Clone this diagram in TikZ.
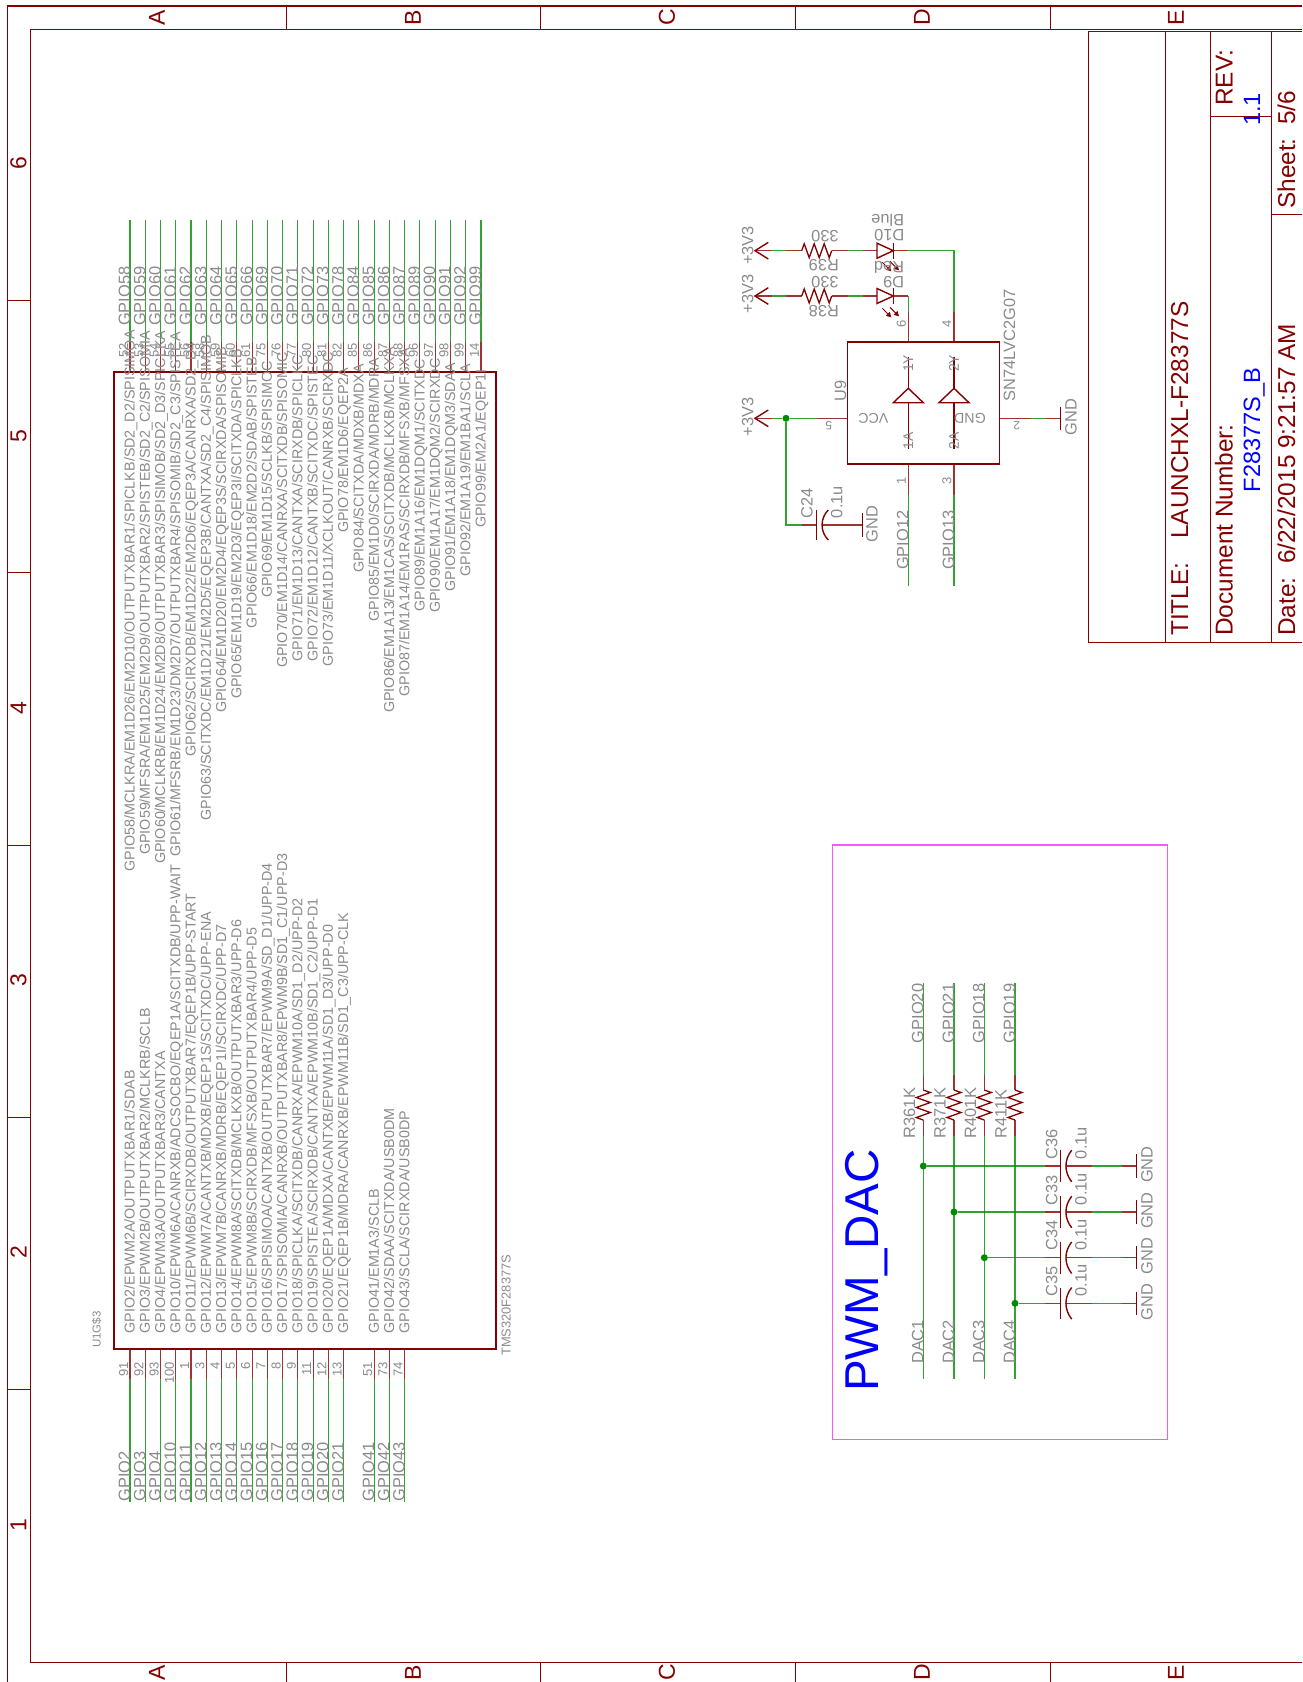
\documentclass[tikz,border=0pt]{standalone}
\usepackage{fontspec}
\setmainfont{Liberation Sans}
\definecolor{sred}{HTML}{850000}
\definecolor{sgreen}{HTML}{008A00}
\definecolor{stxt}{HTML}{8A8A8A}
\definecolor{sblue}{HTML}{0000FF}
\definecolor{smag}{HTML}{FF55FF}
\newcommand\fsz[1]{\fontsize{#1}{#1}\selectfont}
\tikzset{
  wire/.style={draw=sgreen,line width=1.1pt,opacity=0.8},
  pinl/.style={draw=sred,line width=1.1pt,opacity=0.8},
  sym/.style={draw=sred,line width=1.4pt},
  frameo/.style={draw=sred,line width=1.5pt},
  framei/.style={draw=sred,line width=1pt},
  vt/.style={text=stxt,inner sep=0pt,rotate=90,anchor=base west,font=\fsz{16.4}},
  vte/.style={text=stxt,inner sep=0pt,rotate=90,anchor=base east,font=\fsz{13}},
  vf/.style={text=stxt,inner sep=0pt,rotate=90,anchor=base west,font=\fsz{14.34}},
  ct/.style={text=stxt,inner sep=0pt,rotate=90,anchor=center,font=\fsz{14}},
  ut/.style={text=stxt,inner sep=0pt,rotate=180,anchor=center,font=\fsz{16.4}},
  zl/.style={text=sred,inner sep=0pt,rotate=90,anchor=center,font=\fsz{23}},
  tt/.style={text=sred,inner sep=0pt,rotate=90,anchor=base west,font=\fsz{24.4}},
  tb/.style={text=sblue,inner sep=0pt,rotate=90,anchor=base west,font=\fsz{23.6}},
  dot/.style={circle,fill=sgreen,inner sep=0pt,minimum size=7pt},
}
% top pin: index, net, number, start of the function text, function text
\newcommand\toppin[5]{%
  \pgfmathsetmacro\px{130+15.26*#1}
  \coordinate (t#2a) at (\px,220);
  \coordinate (t#2b) at (\px,341.7);
  \coordinate (t#2c) at (\px,372.5);
  \draw[wire] (t#2a) -- (t#2b);
  \draw[pinl] (t#2b) -- (t#2c);
  \node[vt] (tn#2) at (\px,326) {#2};
  \node[vt,font=\fsz{13}] (tp#2) at (\px-2,357.5) {#3};
  \node[vf] (tf#2) at (\px+4.6,#4) {#5};
}
% bottom pin: index, net, number, function text
\newcommand\botpin[4]{%
  \pgfmathsetmacro\px{130+15.26*#1}
  \coordinate (b#2a) at (\px,1501.7);
  \coordinate (b#2b) at (\px,1379);
  \coordinate (b#2c) at (\px,1349);
  \draw[wire] (b#2a) -- (b#2b);
  \draw[pinl] (b#2b) -- (b#2c);
  \node[vt] (bn#2) at (\px,1501.7) {#2};
  \node[vte] (bp#2) at (\px-2,1362) {#3};
  \node[vf] (bf#2) at (\px+4.6,1333.5) {#4};
}
% PWM branch: x, GPIO net, R label, DAC net
\newcommand\dacline[4]{%
  \coordinate (g#2) at (#1,983.3);
  \coordinate (r#2a) at (#1,1075);
  \coordinate (r#2b) at (#1,1135.7);
  \coordinate (d#2) at (#1,1379);
  \draw[wire] (g#2) -- (r#2a);
  \draw[pinl] (r#2a) -- (#1,1090);
  \draw[sym,line width=1.3pt] (#1,1090) -- ++(7,2.5) -- ++(-14,5) -- ++(14,5) -- ++(-14,5) -- ++(14,5) -- ++(-14,5) -- ++(7,2.5);
  \draw[pinl] (#1,1120) -- (r#2b);
  \draw[wire] (r#2b) -- (d#2);
  \node[vt] (gn#2) at (#1,1043.3) {#2};
  \node[vt] (rn#2) at (#1-8.3,1138.3) {#3};
  \node[vt] (dn#2) at (#1,1364) {#4};
}
% PWM cap: y, x of DAC line, C label
\newcommand\daccap[3]{%
  \node[dot] (j#3) at (#2,#1) {};
  \draw[wire] (j#3) -- (1045,#1);
  \draw[pinl] (1045,#1) -- (1060.7,#1);
  \draw[sym] (1060.7,#1-15.8) -- (1060.7,#1+15.8);
  \draw[sym] (1071.7,#1-15.8) .. controls (1064,#1-6) and (1064,#1+6) .. (1071.7,#1+15.8);
  \draw[pinl] (1066,#1) -- (1091.7,#1);
  \draw[wire] (1091.7,#1) -- (1121.7,#1);
  \draw[pinl] (1121.7,#1) -- (1136.7,#1);
  \draw[sym] (1136.7,#1-11.7) -- (1136.7,#1+11.7);
  \node[vt] (cn#3) at (1057.3,#1-6.7) {#3};
  \node[vt] (cv#3) at (1086.7,#1-6.7) {0.1u};
  \node[vt] (cg#3) at (1152.7,#1+17) {GND};
}
% LED branch: y
\newcommand\ledline[1]{%
  \draw[sym] (768.3,#1-8.3) -- (755,#1) -- (768.3,#1+8.3);
  \draw[pinl] (755,#1) -- (771.7,#1);
  \draw[wire] (771.7,#1) -- (786,#1);
  \draw[pinl] (786,#1) -- (801.7,#1);
  \draw[sym,line width=1.3pt] (801.7,#1) -- ++(2.5,-7) -- ++(5,14) -- ++(5,-14) -- ++(5,14) -- ++(5,-14) -- ++(5,14) -- ++(2.5,-7);
  \draw[pinl] (831.7,#1) -- (847.7,#1);
  \draw[wire] (847.7,#1) -- (862.7,#1);
  \draw[pinl] (862.7,#1) -- (877,#1);
  \draw[sym] (877,#1-7.5) -- (893.3,#1) -- (877,#1+7.5) -- cycle;
  \draw[sym] (893.3,#1-8) -- (893.3,#1+8);
}
\newcommand\ledarrow[2]{%
  \draw[draw=sred,line width=1pt] (#1,#2) -- ++(7,7);
  \fill[sred] (#1+9,#2+9) -- ++(-5.5,-1.5) -- ++(4,-4) -- cycle;
}
\newcommand\gate[1]{%
  \draw[sym] (#1,356.7) -- (#1,388.3);
  \draw[sym] (#1,388.3) -- (#1-15,402.7) -- (#1+15,402.7) -- cycle;
  \draw[sym] (#1,402.7) -- (#1,449.3);
}
\begin{document}
\begin{tikzpicture}[x=1pt,y=-1pt]
\useasboundingbox (0,0) rectangle (1302,1682);
% sheet frame
\draw[frameo] (1302,6) -- (7.7,6) -- (7.7,1682);
\draw[framei] (1302,29) -- (30.7,29) -- (30.7,1662) -- (1302,1662);
\foreach \x in {286,540.5,795.5,1050} {
  \draw[framei] (\x,6) -- (\x,29);
  \draw[framei] (\x,1662) -- (\x,1682);
}
\foreach \y in {300.3,572.7,845,1117.2,1389.4} {
  \draw[framei] (7.7,\y) -- (30.7,\y);
}
\foreach \x/\l in {157/A,413/B,667/C,922/D,1176/E} {
  \node[zl] (top\l) at (\x,17.5) {\l};
  \node[zl] (bot\l) at (\x,1672.5) {\l};
}
\foreach \y/\l in {163.5/6,435.7/5,708/4,980.2/3,1252.5/2,1524.7/1} {
  \node[zl] (n\l) at (18.5,\y) {\l};
}
% title block
\draw[framei] (1302,31) -- (1088.6,31) -- (1088.6,642.4) -- (1302,642.4);
\draw[framei] (1165.8,31) -- (1165.8,642.4);
\draw[framei] (1210.8,31) -- (1210.8,642.4);
\draw[framei] (1271.5,31) -- (1271.5,642.4);
\draw[framei] (1210.8,116) -- (1271.5,116);
\draw[framei] (1271.5,214.5) -- (1302,214.5);
\node[tt] (title) at (1188,636) {TITLE:\ \ \ \hspace{3.5pt}LAUNCHXL-F28377S};
\node[tt] (docn) at (1232.7,636) {Document Number:};
\node[tb] (doc) at (1260,492.6) {F28377S\_B};
\node[tt] (rev) at (1232.7,106) {REV:};
\node[tb] (revn) at (1260,126) {1.1};
\node[tt] (sheet) at (1295,209) {Sheet:\ \ 5/6};
\node[tt] (date) at (1295,636) {Date:\ \ 6/22/2015 9:21:57 AM};
% MCU
\draw[sym,line width=1.8pt] (114.3,372.3) rectangle (496.3,1349);
\node[vt,font=\fsz{11.5}] (u1) at (100.7,1348) {U1G\$3};
\node[vt,font=\fsz{12.9}] (tms) at (510.5,1356) {TMS320F28377S};
\toppin{0}{GPIO58}{52}{871.7}{GPIO58/MCLKRA/EM1D26/EM2D10/OUTPUTXBAR1/SPICLKB/SD2\_D2/SPISIMOA}
\toppin{1}{GPIO59}{53}{855}{GPIO59/MFSRA/EM1D25/EM2D9/OUTPUTXBAR2/SPISTEB/SD2\_C2/SPISOMIA}
\toppin{2}{GPIO60}{54}{864}{GPIO60/MCLKRB/EM1D24/EM2D8/OUTPUTXBAR3/SPISIMOB/SD2\_D3/SPICLKA}
\toppin{3}{GPIO61}{55}{856.7}{GPIO61/MFSRB/EM1D23/DM2D7/OUTPUTXBAR4/SPISOMIB/SD2\_C3/SPISTEA}
\toppin{4}{GPIO62}{56}{756.7}{GPIO62/SCIRXDB/EM1D22/EM2D6/EQEP3A/CANRXA/SD2\_D4}
\toppin{5}{GPIO63}{58}{820.7}{GPIO63/SCITXDC/EM1D21/EM2D5/EQEP3B/CANTXA/SD2\_C4/SPISIMOB}
\toppin{6}{GPIO64}{59}{713}{GPIO64/EM1D20/EM2D4/EQEP3S/SCIRXDA/SPISOMIB}
\toppin{7}{GPIO65}{60}{699}{GPIO65/EM1D19/EM2D3/EQEP3I/SCITXDA/SPICLKB}
\toppin{8}{GPIO66}{61}{628.3}{GPIO66/EM1D18/EM2D2/SDAB/SPISTEB}
\toppin{9}{GPIO69}{75}{598}{GPIO69/EM1D15/SCLKB/SPISIMOC}
\toppin{10}{GPIO70}{76}{668}{GPIO70/EM1D14/CANRXA/SCITXDB/SPISOMIC}
\toppin{11}{GPIO71}{77}{661.7}{GPIO71/EM1D13/CANTXA/SCIRXDB/SPICLKC}
\toppin{12}{GPIO72}{80}{661.7}{GPIO72/EM1D12/CANTXB/SCITXDC/SPISTEC}
\toppin{13}{GPIO73}{81}{666.7}{GPIO73/EM1D11/XCLKOUT/CANRXB/SCIRXDC}
\toppin{14}{GPIO78}{82}{533}{GPIO78/EM1D6/EQEP2A}
\toppin{15}{GPIO84}{85}{573}{GPIO84/SCITXDA/MDXB/MDXA}
\toppin{16}{GPIO85}{86}{621.7}{GPIO85/EM1D0/SCIRXDA/MDRB/MDRA}
\toppin{17}{GPIO86}{87}{713}{GPIO86/EM1A13/EM1CAS/SCITXDB/MCLKXB/MCLKXA}
\toppin{18}{GPIO87}{88}{696.7}{GPIO87/EM1A14/EM1RAS/SCIRXDB/MFSXB/MFSXA}
\toppin{19}{GPIO89}{96}{611.7}{GPIO89/EM1A16/EM1DQM1/SCITXDC}
\toppin{20}{GPIO90}{97}{613}{GPIO90/EM1A17/EM1DQM2/SCIRXDC}
\toppin{21}{GPIO91}{98}{591.7}{GPIO91/EM1A18/EM1DQM3/SDAA}
\toppin{22}{GPIO92}{99}{576.7}{GPIO92/EM1A19/EM1BA1/SCLA}
\toppin{23}{GPIO99}{14}{528}{GPIO99/EM2A1/EQEP1I}
\botpin{0}{GPIO2}{91}{GPIO2/EPWM2A/OUTPUTXBAR1/SDAB}
\botpin{1}{GPIO3}{92}{GPIO3/EPWM2B/OUTPUTXBAR2/MCLKRB/SCLB}
\botpin{2}{GPIO4}{93}{GPIO4/EPWM3A/OUTPUTXBAR3/CANTXA}
\botpin{3}{GPIO10}{100}{GPIO10/EPWM6A/CANRXB/ADCSOCBO/EQEP1A/SCITXDB/UPP-WAIT}
\botpin{4}{GPIO11}{1}{GPIO11/EPWM6B/SCIRXDB/OUTPUTXBAR7/EQEP1B/UPP-START}
\botpin{5}{GPIO12}{3}{GPIO12/EPWM7A/CANTXB/MDXB/EQEP1S/SCITXDC/UPP-ENA}
\botpin{6}{GPIO13}{4}{GPIO13/EPWM7B/CANRXB/MDRB/EQEP1I/SCIRXDC/UPP-D7}
\botpin{7}{GPIO14}{5}{GPIO14/EPWM8A/SCITXDB/MCLKXB/OUTPUTXBAR3/UPP-D6}
\botpin{8}{GPIO15}{6}{GPIO15/EPWM8B/SCIRXDB/MFSXB/OUTPUTXBAR4/UPP-D5}
\botpin{9}{GPIO16}{7}{GPIO16/SPISIMOA/CANTXB/OUTPUTXBAR7/EPWM9A/SD\_D1/UPP-D4}
\botpin{10}{GPIO17}{8}{GPIO17/SPISOMIA/CANRXB/OUTPUTXBAR8/EPWM9B/SD1\_C1/UPP-D3}
\botpin{11}{GPIO18}{9}{GPIO18/SPICLKA/SCITXDB/CANRXA/EPWM10A/SD1\_D2/UPP-D2}
\botpin{12}{GPIO19}{11}{GPIO19/SPISTEA/SCIRXDB/CANTXA/EPWM10B/SD1\_C2/UPP-D1}
\botpin{13}{GPIO20}{12}{GPIO20/EQEP1A/MDXA/CANTXB/EPWM11A/SD1\_D3/UPP-D0}
\botpin{14}{GPIO21}{13}{GPIO21/EQEP1B/MDRA/CANRXB/EPWM11B/SD1\_C3/UPP-CLK}
\botpin{16}{GPIO41}{51}{GPIO41/EM1A3/SCLB}
\botpin{17}{GPIO42}{73}{GPIO42/SDAA/SCITXDA/USB0DM}
\botpin{18}{GPIO43}{74}{GPIO43/SCLA/SCIRXDA/USB0DP}
% U9 and LEDs
\draw[sym,line width=1.6pt] (847.3,342) rectangle (999.3,464);
\gate{908.3}
\gate{954}
\ledline{250.7}
\ledline{296}
\draw[pinl] (893.3,250.7) -- (908.3,250.7);
\draw[wire] (908.3,250.7) -- (954,250.7) -- (954,311.7);
\draw[pinl] (954,311.7) -- (954,342);
\draw[pinl] (893.3,296) -- (908.3,296);
\draw[wire] (908.3,296) -- (908.3,311.7);
\draw[pinl] (908.3,311.7) -- (908.3,342);
\ledarrow{882.3}{262.3}
\ledarrow{890}{261.3}
\ledarrow{882.3}{308.3}
\ledarrow{890}{307.3}
\draw[pinl] (908.3,464) -- (908.3,495);
\draw[wire] (908.3,495) -- (908.3,586);
\draw[pinl] (954,464) -- (954,495);
\draw[wire] (954,495) -- (954,586);
\node[dot] (j5) at (786,418.3) {};
\draw[sym] (768.3,410) -- (755,418.3) -- (768.3,426.6);
\draw[pinl] (755,418.3) -- (771.7,418.3);
\draw[wire] (771.7,418.3) -- (j5);
\draw[wire] (j5) -- (816.7,418.3);
\draw[pinl] (816.7,418.3) -- (847.3,418.3);
\draw[wire] (j5) -- (786,525) -- (801.7,525);
\draw[pinl] (801.7,525) -- (816.7,525);
\draw[sym] (816.7,510) -- (816.7,540);
\draw[sym] (828.3,510) .. controls (820,518) and (820,532) .. (828.3,540);
\draw[pinl] (821.7,525) -- (862.7,525);
\draw[sym] (862.7,513.3) -- (862.7,536.7);
\draw[pinl] (999.3,418.3) -- (1030.7,418.3);
\draw[wire] (1030.7,418.3) -- (1045,418.3);
\draw[pinl] (1045,418.3) -- (1060.7,418.3);
\draw[sym] (1060.7,406.7) -- (1060.7,430);
\node[vt] (p1) at (753.3,313.3) {+3V3};
\node[vt] (p2) at (753.3,265) {+3V3};
\node[vt] (p3) at (753.3,436.7) {+3V3};
\node[vt] (sn) at (1015,401.7) {SN74LVC2G07};
\node[vt] (un) at (846,402) {U9};
\node[vt] (c24) at (812.7,518.3) {C24};
\node[vt] (c24v) at (842.3,518.3) {0.1u};
\node[vt] (g1) at (877.7,542.7) {GND};
\node[vt] (g2) at (1076.7,435.7) {GND};
\node[vt] (g12) at (908.3,570) {GPIO12};
\node[vt] (g13) at (954,570) {GPIO13};
\node[ut] (v39) at (825,235.7) {330};
\node[ut] (r39) at (823.8,265.5) {R39};
\node[ut] (v38) at (825,282) {330};
\node[ut] (r38) at (823.8,311.3) {R38};
\node[ut] (d10) at (889.3,235.3) {D10};
\node[ut] (blue) at (887.7,220.7) {Blue};
\node[ut] (red) at (889,267) {Red};
\node[ut] (d9) at (893.7,281.7) {D9};
\node[ut,font=\fsz{14.2}] (vcc) at (873.3,418.7) {VCC};
\node[ut,font=\fsz{14.2}] (gnd) at (970,418.7) {GND};
\node[ut,font=\fsz{12}] (p5) at (828.7,425.7) {5};
\node[ut,font=\fsz{12}] (p2n) at (1016.7,425.7) {2};
\node[ct,font=\fsz{13}] (p6) at (901.3,324) {6};
\node[ct,font=\fsz{13}] (p4) at (947,324) {4};
\node[ct,font=\fsz{13}] (p1n) at (901.3,480.7) {1};
\node[ct,font=\fsz{13}] (p3n) at (947,480.7) {3};
\node[ct] (y1) at (908.3,363.3) {1Y};
\node[ct] (y2) at (954,363.3) {2Y};
\node[ct] (a1) at (908.3,440.7) {1A};
\node[ct] (a2) at (954,440.7) {2A};
% PWM_DAC
\draw[draw=smag,line width=1.5pt] (832.3,845) rectangle (1167.7,1439.3);
\node[text=sblue,inner sep=0pt,rotate=90,anchor=base west,font=\fsz{47.5}] (pwm) at (878,1392) {PWM\_DAC};
\dacline{923.3}{GPIO20}{R361K}{DAC1}
\dacline{954}{GPIO21}{R371K}{DAC2}
\dacline{984.3}{GPIO18}{R401K}{DAC3}
\dacline{1015}{GPIO19}{R411K}{DAC4}
\daccap{1166}{923.3}{C36}
\daccap{1212}{954}{C33}
\daccap{1257.7}{984.3}{C34}
\daccap{1303.3}{1015}{C35}
\end{tikzpicture}
\end{document}
